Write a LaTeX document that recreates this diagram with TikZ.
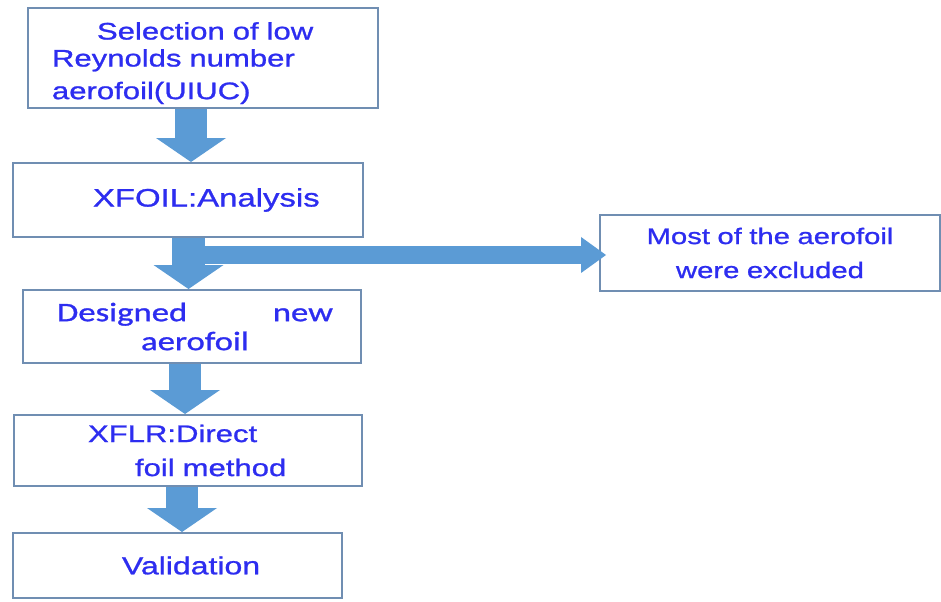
\documentclass[tikz,border=0pt]{standalone}
\usepackage{fontspec}
\setmainfont{Liberation Sans}[FakeStretch=1.3,FakeBold=1]
\newfontfamily\calfont{Carlito}[FakeStretch=1.3,FakeBold=1]
\usetikzlibrary{arrows.meta}

\definecolor{boxline}{RGB}{112,142,178}
\definecolor{flowblue}{RGB}{91,155,213}
\definecolor{labelblue}{RGB}{45,45,240}

\tikzset{
  stage/.style={draw=boxline, line width=1.4pt, fill=white, text=labelblue,
    inner xsep=0pt, inner ysep=0pt, align=left},
  downarrow/.style={draw=flowblue, line width=0.82cm,
    -{Triangle[length=0.6cm,width=1.75cm,line width=0pt]}},
  sidearrow/.style={draw=flowblue, line width=0.45cm,
    -{Triangle[length=0.625cm,width=0.9cm,line width=0pt]}},
}

\begin{document}
\begin{tikzpicture}
\useasboundingbox (0,0) rectangle (23.525,-15.05);

\node[stage, text width=8.75cm, minimum height=2.5cm, font=\fontsize{17}{19.2}\selectfont]
  (select) at (5.075,-1.45)
  {\hspace*{1.725cm}\rule{0pt}{0.69cm}Selection of low\\\hspace*{0.6cm}Reynolds number\\[4pt]\hspace*{0.6cm}aerofoil(UIUC)};
\node[stage, text width=8.75cm, minimum height=1.85cm, font=\fontsize{18}{20}\selectfont]
  (xfoil) at (4.7,-5.0) {\hspace*{2.0cm}XFOIL:Analysis};
\node[stage, text width=8.45cm, minimum height=1.825cm, font=\calfont\fontsize{19}{20.6}\selectfont]
  (design) at (4.8,-8.1625)
  {\hspace*{0.85cm}\makebox[6.9cm]{Designed\hfill new}\\\hspace*{0.85cm}\makebox[6.9cm]{aerofoil}};
\node[stage, text width=8.7cm, minimum height=1.775cm, font=\fontsize{17}{24.2}\selectfont]
  (xflr) at (4.7,-11.2625) {\hspace*{1.85cm}XFLR:Direct\\\hspace*{3.025cm}foil method};
\node[stage, text width=8.225cm, minimum height=1.625cm, font=\fontsize{17.5}{20}\selectfont]
  (valid) at (4.4375,-14.1375) {\hspace*{2.725cm}Validation};

\node[stage, align=center, text width=8.5cm, minimum height=1.9cm, font=\fontsize{16}{24.2}\selectfont]
  (excluded) at (19.25,-6.325) {Most of the aerofoil\\were excluded};

% block arrows
\coordinate (a1) at (4.775,0);
\coordinate (a2) at (4.7125,0);
\coordinate (a3) at (4.625,0);
\coordinate (a4) at (4.55,0);
\draw[downarrow] (select.south -| a1) -- (xfoil.north -| a1);
\draw[downarrow] (xfoil.south -| a2) -- (design.north -| a2);
\draw[downarrow] (design.south -| a3) -- (xflr.north -| a3);
\draw[downarrow] (xflr.south -| a4) -- (valid.north -| a4);

\coordinate (fork) at (4.7125,-6.375);
\draw[sidearrow, shorten >=-0.175cm] (fork) -- (fork -| excluded.west);
\end{tikzpicture}
\end{document}
